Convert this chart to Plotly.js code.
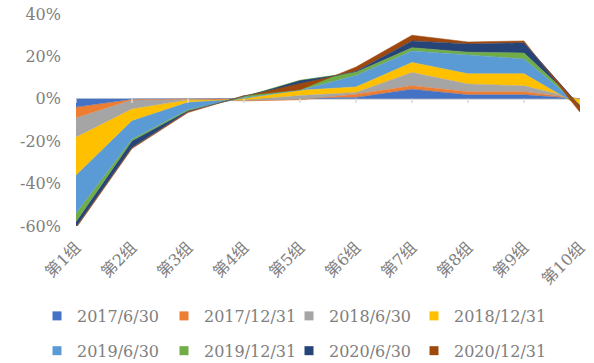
<!DOCTYPE html>
<html>
<head>
<meta charset="utf-8">
<script src="https://cdn.plot.ly/plotly-3.0.1.min.js"></script>
<style>html,body{margin:0;padding:0;background:#fff;}#chart{width:594px;height:363px;}</style>
</head>
<body>
<div id="chart"></div>
<script>
// Categories (x axis)
var groups = ['第1组','第2组','第3组','第4组','第5组','第6组','第7组','第8组','第9组','第10组'];
// Series names
var seriesNames = ['2017/6/30','2017/12/31','2018/6/30','2018/12/31','2019/6/30','2019/12/31','2020/6/30','2020/12/31'];
// Series values (%), one per report date
var d2017_6_30  = [-3.9, -0.2,  0.0,  0.0,  0.3, 0.6, 4.5, 1.9, 1.9,  0.0];
var d2017_12_31 = [-5.0, -0.3, -0.2, -1.0, -0.8, 1.6, 1.6, 1.4, 1.4,  0.0];
var d2018_6_30  = [-9.1, -4.2, -0.3,  0.3,  2.0, 0.8, 6.3, 3.7, 2.8, -0.3];
var d2018_12_31 = [-18.0,-5.5, -1.0,  0.7,  2.5, 2.6, 4.7, 4.8, 5.7, -3.2];
var d2019_6_30  = [-18.0,-8.8, -3.5,  0.5,  0.0, 5.4, 5.5, 8.9, 7.0,  0.3];
var d2019_12_31 = [-4.0, -0.8, -0.5,  0.5,  4.8, 1.5, 1.5, 1.3, 2.8,  0.0];
var d2020_6_30  = [-2.4, -3.2, -0.5,  0.3, -1.5, 0.5, 3.2, 3.9, 4.8, -0.3];
var d2020_12_31 = [-0.6, -0.5, -0.5,  0.2, -3.0, 2.0, 2.7, 0.9, 0.9, -2.9];
// Y tick values and labels
var yTickVals = [-60, -40, -20, 0, 20, 40];
var yTickLabels = ['-60%', '-40%', '-20%', '0%', '20%', '40%'];

var seriesValues = [d2017_6_30, d2017_12_31, d2018_6_30, d2018_12_31, d2019_6_30, d2019_12_31, d2020_6_30, d2020_12_31];
var colors = ['#4472C4','#ED7D31','#A5A5A5','#FFC000','#5B9BD5','#70AD47','#264478','#9E480E'];

var FONT = "'DejaVu Serif', 'Noto Sans CJK SC', serif";
var GRAY = '#808080';

var traces = [];
seriesValues.forEach(function(vals, i) {
  traces.push({
    type: 'scatter', mode: 'lines', name: seriesNames[i],
    x: groups, y: vals, stackgroup: 'one',
    line: {color: colors[i], width: 0.5},
    fillcolor: colors[i],
    showlegend: false, hoverinfo: 'skip'
  });
});
// legend entries (square swatches), 4 columns x 2 rows
var legendIds = ['legend', 'legend2', 'legend3', 'legend4'];
seriesNames.forEach(function(n, i) {
  traces.push({
    type: 'scatter', mode: 'markers', name: n,
    x: [null], y: [null],
    marker: {symbol: 'square', size: 9, color: colors[i]},
    showlegend: true,
    legend: legendIds[i % 4],
    legendgroup: 'g' + i
  });
});

var tickShapes = groups.map(function(g) {
  return {type: 'line', xref: 'x', yref: 'y', x0: g, x1: g, y0: 0, y1: -2,
          line: {color: '#d9d9d9', width: 1.5}, layer: 'above'};
});

var legendCols = [37, 164, 289, 414]; // left edge of each legend column, px
var layout = {
  width: 594, height: 363,
  margin: {l: 76, r: 14, t: 14, b: 137, pad: 0, autoexpand: false},
  paper_bgcolor: '#ffffff', plot_bgcolor: '#ffffff',
  font: {family: FONT, size: 16, color: GRAY},
  xaxis: {
    type: 'category', range: [0, groups.length - 1],
    showgrid: false, showline: false, zeroline: false, ticks: '',
    tickangle: -45, tickfont: {family: FONT, size: 16, color: GRAY},
    ticklabelstandoff: 8, automargin: false
  },
  yaxis: {
    range: [-60, 40], tickvals: yTickVals, ticktext: yTickLabels,
    showgrid: false, showline: false, ticks: '',
    zeroline: true, zerolinecolor: '#d9d9d9', zerolinewidth: 2,
    tickfont: {family: FONT, size: 16, color: GRAY},
    ticklabelstandoff: 14, automargin: false
  },
  shapes: tickShapes,
  showlegend: true
};
legendIds.forEach(function(id, c) {
  layout[id] = {
    orientation: 'v', xanchor: 'left', yanchor: 'middle',
    xref: 'paper', yref: 'paper',
    x: (legendCols[c] - 76) / 504, y: -0.507,
    traceorder: 'grouped', tracegroupgap: 11,
    font: {family: FONT, size: 16, color: GRAY},
    bgcolor: 'rgba(0,0,0,0)'
  };
});

Plotly.newPlot('chart', traces, layout, {displayModeBar: false, staticPlot: true});
</script>
</body>
</html>
